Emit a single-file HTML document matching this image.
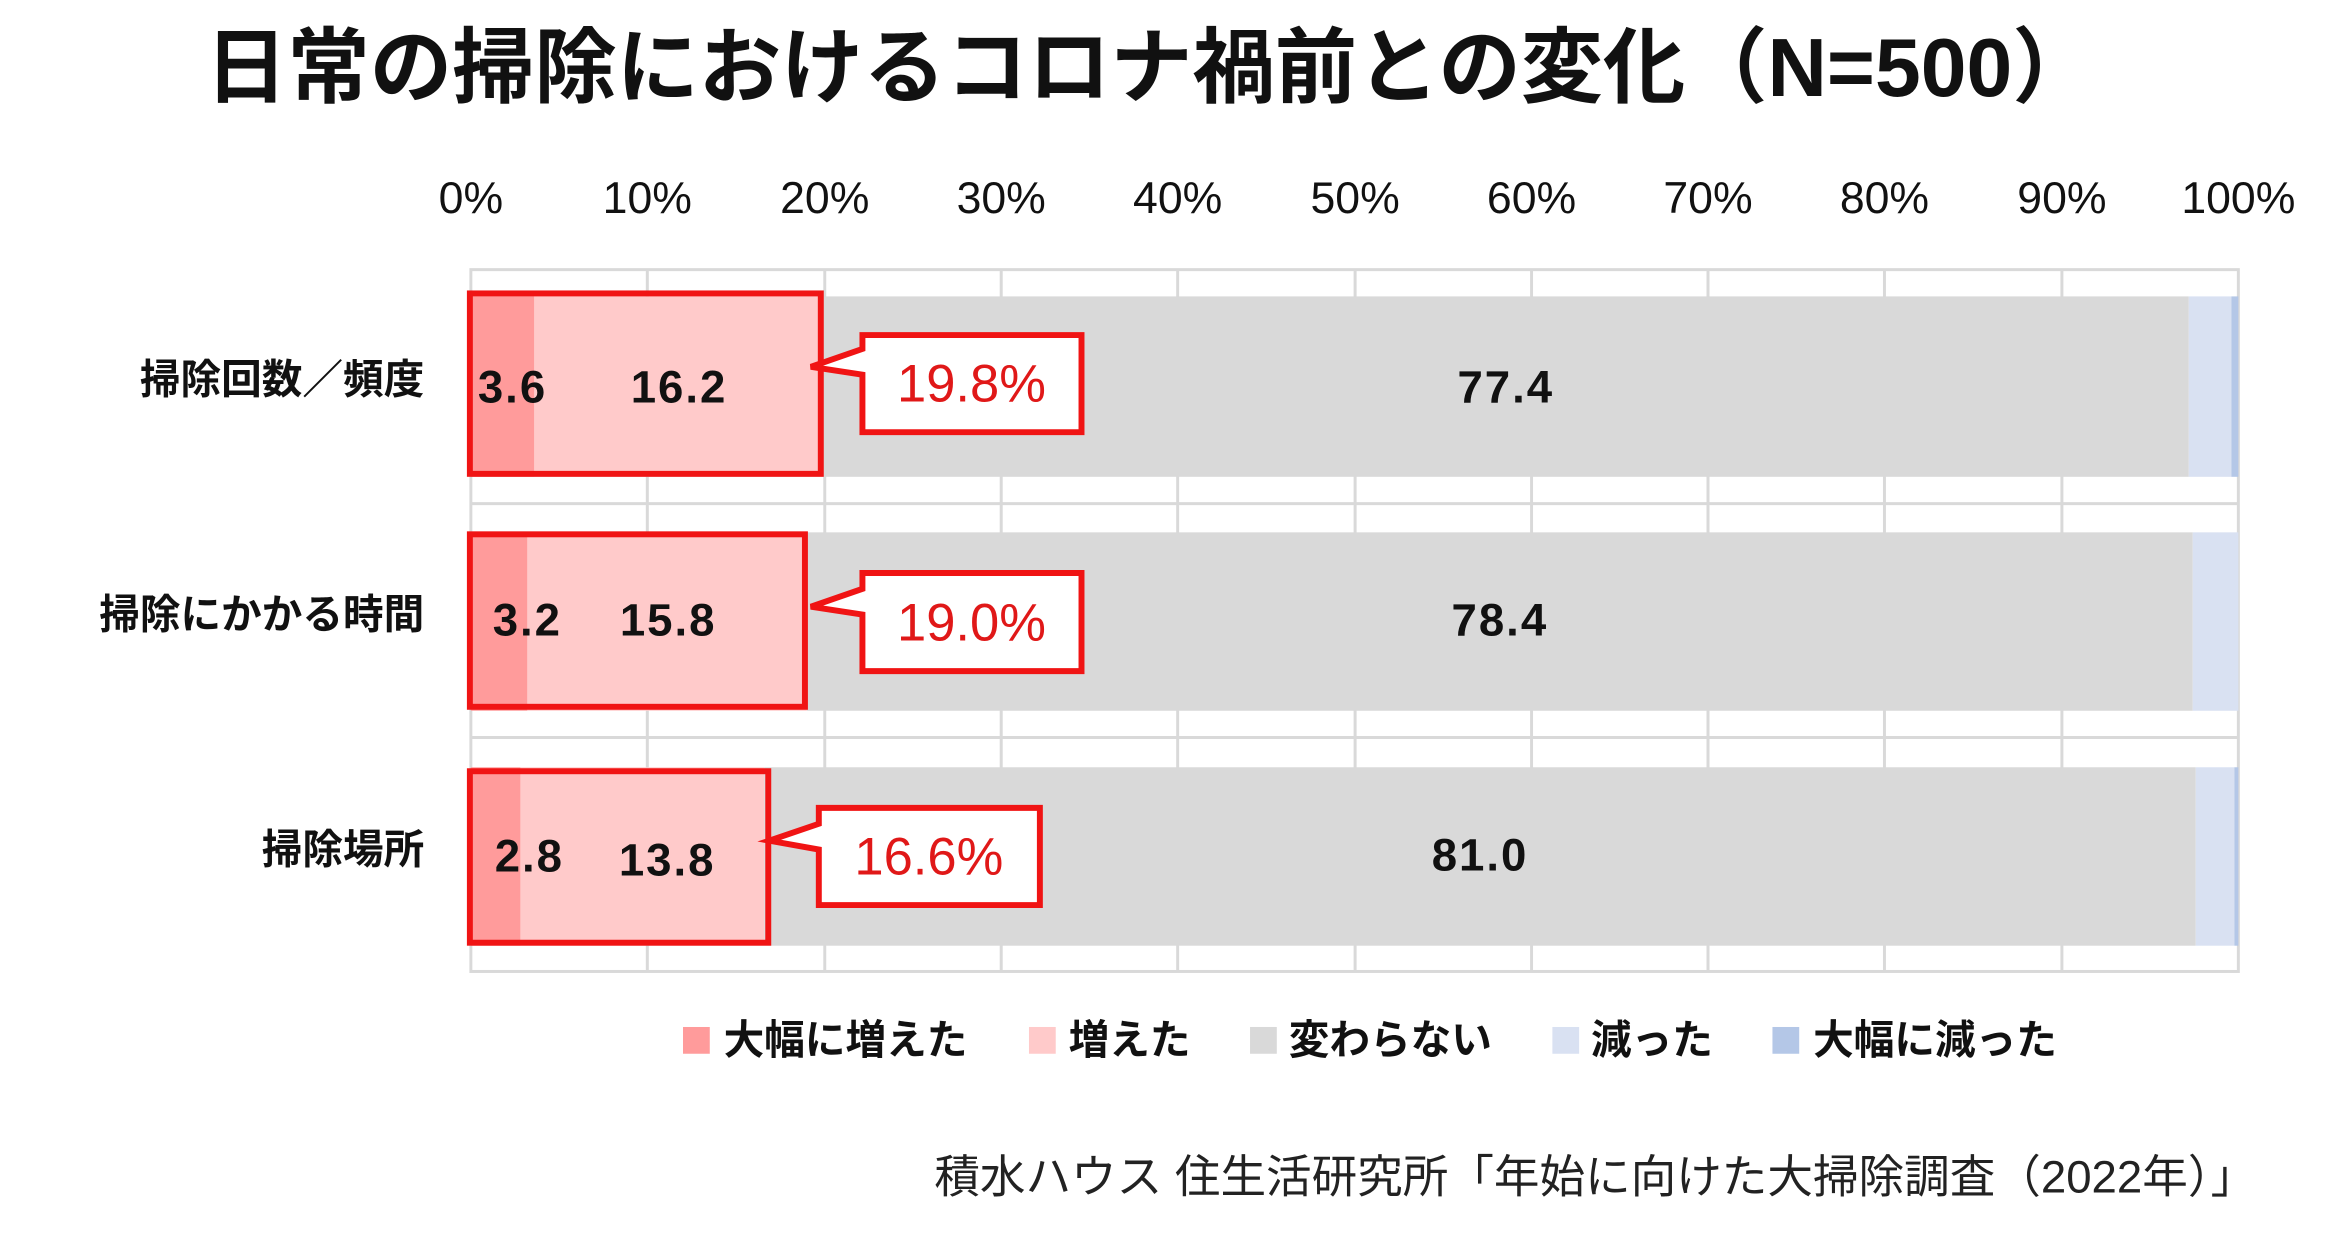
<!DOCTYPE html>
<html><head><meta charset="utf-8"><style>
html,body{margin:0;padding:0;background:#fff;}
svg{display:block;}
text{font-family:"Liberation Sans","Noto Sans CJK JP",sans-serif;}
</style></head><body>
<svg width="2346" height="1253" viewBox="0 0 2346 1253" xmlns="http://www.w3.org/2000/svg">
<g transform="scale(0.9913)">
<text x="1160" y="97" text-anchor="middle" font-size="83" font-weight="bold" fill="#111">日常の掃除におけるコロナ禍前との変化（N=500）</text>
<g font-size="45" fill="#111" text-anchor="middle">
<text x="475" y="215">0%</text><text x="653" y="215">10%</text><text x="832" y="215">20%</text><text x="1010" y="215">30%</text><text x="1188" y="215">40%</text><text x="1367" y="215">50%</text><text x="1545" y="215">60%</text><text x="1723" y="215">70%</text><text x="1901" y="215">80%</text><text x="2080" y="215">90%</text><text x="2258" y="215">100%</text>
</g>
<g stroke="#d9d9d9" stroke-width="3" fill="none">
<rect x="475" y="272" width="1783" height="708"/>
<line x1="475" y1="508" x2="2258" y2="508"/><line x1="475" y1="744" x2="2258" y2="744"/>
<line x1="653" y1="272" x2="653" y2="980"/><line x1="832" y1="272" x2="832" y2="980"/><line x1="1010" y1="272" x2="1010" y2="980"/><line x1="1188" y1="272" x2="1188" y2="980"/><line x1="1367" y1="272" x2="1367" y2="980"/><line x1="1545" y1="272" x2="1545" y2="980"/><line x1="1723" y1="272" x2="1723" y2="980"/><line x1="1901" y1="272" x2="1901" y2="980"/><line x1="2080" y1="272" x2="2080" y2="980"/>
</g>
<rect x="475" y="299" width="64" height="182" fill="#ff9b9b"/>
<rect x="539" y="299" width="289" height="182" fill="#ffcaca"/>
<rect x="828" y="299" width="1380" height="182" fill="#d9d9d9"/>
<rect x="2208" y="299" width="43" height="182" fill="#d9e1f2"/>
<rect x="2251" y="299" width="7" height="182" fill="#b4c7e7"/>
<rect x="475" y="537" width="57" height="180" fill="#ff9b9b"/>
<rect x="532" y="537" width="282" height="180" fill="#ffcaca"/>
<rect x="814" y="537" width="1398" height="180" fill="#d9d9d9"/>
<rect x="2212" y="537" width="46" height="180" fill="#d9e1f2"/>
<rect x="475" y="774" width="50" height="180" fill="#ff9b9b"/>
<rect x="525" y="774" width="246" height="180" fill="#ffcaca"/>
<rect x="771" y="774" width="1444" height="180" fill="#d9d9d9"/>
<rect x="2215" y="774" width="39" height="180" fill="#d9e1f2"/>
<rect x="2254" y="774" width="4" height="180" fill="#b4c7e7"/>
<g stroke="#f01414" stroke-width="6" fill="none">
<rect x="474" y="296" width="354" height="182"/>
<rect x="474" y="539" width="338" height="174"/>
<rect x="474" y="778" width="301" height="173"/>
</g>
<g stroke="#f01414" stroke-width="6" fill="#fff">
<path d="M870 338 H1091 V436 H870 V378 L818 370 L870 352 Z"/>
<path d="M870 578 H1091 V677 H870 V620 L818 612 L870 594 Z"/>
<path d="M826 815 H1049 V913 H826 V857 L776 848 L826 831 Z"/>
</g>
<g font-size="53" fill="#e01818" text-anchor="middle">
<text x="980" y="405">19.8%</text><text x="980" y="646">19.0%</text><text x="937" y="882">16.6%</text>
</g>
<g font-size="46" font-weight="bold" fill="#111" text-anchor="middle" letter-spacing="2">
<text x="517" y="406">3.6</text><text x="685" y="406">16.2</text><text x="1519" y="406">77.4</text>
<text x="532" y="641">3.2</text><text x="674" y="641">15.8</text><text x="1513" y="641">78.4</text>
<text x="534" y="879">2.8</text><text x="673" y="883">13.8</text><text x="1493" y="878">81.0</text>
</g>
<g font-size="41" font-weight="bold" fill="#111" text-anchor="end">
<text x="428" y="397">掃除回数／頻度</text><text x="428" y="634">掃除にかかる時間</text><text x="428" y="871">掃除場所</text>
</g>
<g font-size="41" font-weight="bold" fill="#111">
<rect x="689" y="1036" width="27" height="27" fill="#ff9b9b"/><text x="730" y="1063">大幅に増えた</text>
<rect x="1038" y="1036" width="27" height="27" fill="#ffcaca"/><text x="1078" y="1063">増えた</text>
<rect x="1261" y="1036" width="27" height="27" fill="#d9d9d9"/><text x="1300" y="1063">変わらない</text>
<rect x="1566" y="1036" width="27" height="27" fill="#d9e1f2"/><text x="1605" y="1063">減った</text>
<rect x="1788" y="1036" width="27" height="27" fill="#b4c7e7"/><text x="1829" y="1063">大幅に減った</text>
</g>
<text x="2276" y="1203" text-anchor="end" font-size="46" fill="#222">積水ハウス 住生活研究所「年始に向けた大掃除調査（2022年）」</text>
</g>
</svg>
</body></html>
